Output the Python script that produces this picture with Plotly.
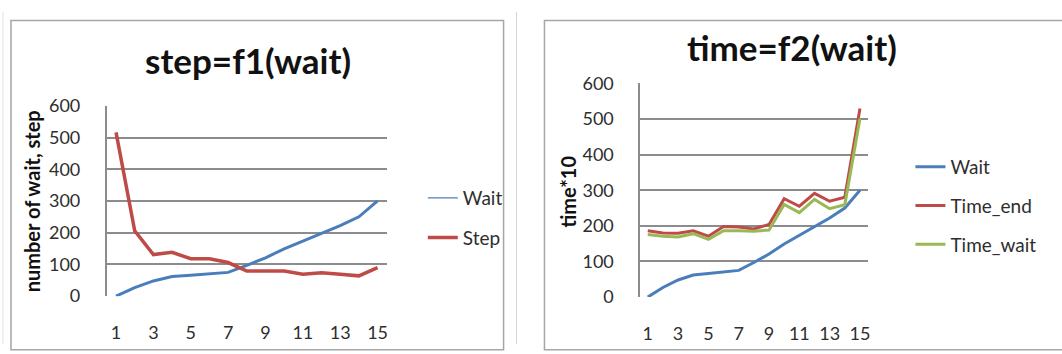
import plotly.graph_objects as go

# ---- data ----
steps_x = list(range(1, 16))
wait = [0, 27, 48, 62, 66, 71, 75, 97, 121, 149, 173, 198, 222, 250, 300]
step = [516, 206, 131, 138, 118, 118, 106, 79, 79, 79, 69, 74, 69, 64, 90]
time_end = [186, 180, 179, 186, 171, 198, 197, 191, 204, 276, 255, 291, 269, 280, 529]
time_wait = [176, 171, 169, 178, 162, 186, 186, 185, 188, 260, 237, 274, 248, 259, 501]
x_ticks = [1, 3, 5, 7, 9, 11, 13, 15]
y_ticks = [0, 100, 200, 300, 400, 500, 600]

W, H = 1062, 354
BLUE = "#4A7EBB"
RED = "#BE4B48"
GREEN = "#98B954"
GRID = "#8C8C8C"
TXT = "#2E2E2E"
FONT = "Lato"


def px(xp):
    return xp / W


def py(yp):
    return 1 - yp / H


fig = go.Figure()

# left chart
fig.add_trace(go.Scatter(x=steps_x, y=wait, mode="lines", name="Wait",
                         line=dict(color=BLUE, width=3), xaxis="x", yaxis="y",
                         showlegend=False))
fig.add_trace(go.Scatter(x=[None], y=[None], mode="lines", name="Wait",
                         line=dict(color=BLUE, width=1.3), xaxis="x", yaxis="y",
                         legend="legend", legendgroup="a"))
fig.add_trace(go.Scatter(x=steps_x, y=step, mode="lines", name="Step",
                         line=dict(color=RED, width=3.5), xaxis="x", yaxis="y",
                         legend="legend", legendgroup="b"))

# right chart
fig.add_trace(go.Scatter(x=steps_x, y=wait, mode="lines", name="Wait",
                         line=dict(color=BLUE, width=3), xaxis="x2", yaxis="y2",
                         legend="legend2", legendgroup="c"))
fig.add_trace(go.Scatter(x=steps_x, y=time_end, mode="lines", name="Time_end",
                         line=dict(color=RED, width=3), xaxis="x2", yaxis="y2",
                         legend="legend2", legendgroup="d"))
fig.add_trace(go.Scatter(x=steps_x, y=time_wait, mode="lines", name="Time_wait",
                         line=dict(color=GREEN, width=3), xaxis="x2", yaxis="y2",
                         legend="legend2", legendgroup="e"))

tickfont = dict(family=FONT, size=18, color=TXT)

xcommon = dict(range=[0.5, 15.5], tickvals=x_ticks, ticks="outside", ticklen=20,
               tickcolor="rgba(0,0,0,0)", showgrid=False, zeroline=False,
               showline=False, tickfont=tickfont, fixedrange=True)
ycommon = dict(range=[0, 600], tickvals=y_ticks, ticks="outside", ticklen=21,
               tickcolor="rgba(0,0,0,0)", showgrid=True, gridcolor=GRID, gridwidth=1.6,
               zeroline=False, showline=True, linecolor=GRID, linewidth=1.6,
               tickfont=tickfont, fixedrange=True)

legfont = dict(family=FONT, size=19, color=TXT)

fig.update_layout(
    width=W, height=H,
    margin=dict(l=0, r=0, t=0, b=0),
    paper_bgcolor="white", plot_bgcolor="white",
    xaxis=dict(domain=[px(107), px(388)], anchor="y", **xcommon),
    yaxis=dict(domain=[py(303), py(100)], anchor="x", **ycommon),
    xaxis2=dict(domain=[px(642), px(870)], anchor="y2", **xcommon),
    yaxis2=dict(domain=[py(304), py(76)], anchor="x2", **ycommon),
    legend=dict(x=px(424), y=py(178), xanchor="left", yanchor="top",
                bgcolor="rgba(0,0,0,0)", font=legfont, tracegroupgap=12,
                itemwidth=30),
    legend2=dict(x=px(913), y=py(145), xanchor="left", yanchor="top",
                 bgcolor="rgba(0,0,0,0)", font=legfont, tracegroupgap=11,
                 itemwidth=30),
    annotations=[
        dict(text="step=f1(wait)", x=px(249), y=py(51), xref="paper", yref="paper",
             xanchor="center", yanchor="middle", showarrow=False,
             font=dict(family=FONT, size=35, color="#111", weight="bold")),
        dict(text="time=f2(wait)", x=px(794), y=py(37), xref="paper", yref="paper",
             xanchor="center", yanchor="middle", showarrow=False,
             font=dict(family=FONT, size=35, color="#111", weight="bold")),
        dict(text="number of wait, step", x=px(33), y=py(202), xref="paper", yref="paper",
             xanchor="center", yanchor="middle", showarrow=False, textangle=-90,
             font=dict(family=FONT, size=20, color="#111", weight="bold")),
        dict(text="time*10", x=px(570), y=py(191), xref="paper", yref="paper",
             xanchor="center", yanchor="middle", showarrow=False, textangle=-90,
             font=dict(family=FONT, size=20, color="#111", weight="bold")),
    ],
    shapes=[
        dict(type="rect", xref="paper", yref="paper", x0=px(11), x1=px(505), y0=py(360), y1=py(9),
             line=dict(color="#A6A6A6", width=1.5)),
        dict(type="rect", xref="paper", yref="paper", x0=px(546), x1=px(1070), y0=py(360), y1=py(9),
             line=dict(color="#A6A6A6", width=1.5)),
        dict(type="line", xref="paper", yref="paper", x0=px(518), x1=px(518), y0=0, y1=1,
             line=dict(color="#D4D4D4", width=1)),
        dict(type="line", xref="paper", yref="paper", x0=px(3), x1=px(3), y0=0, y1=1,
             line=dict(color="#DCE3EC", width=1)),
    ],
)

fig.write_html(
    "out.html",
    config={"displayModeBar": False},
    post_script="document.documentElement.style.margin='0';"
                "document.body.style.margin='0';document.body.style.overflow='hidden';",
)
